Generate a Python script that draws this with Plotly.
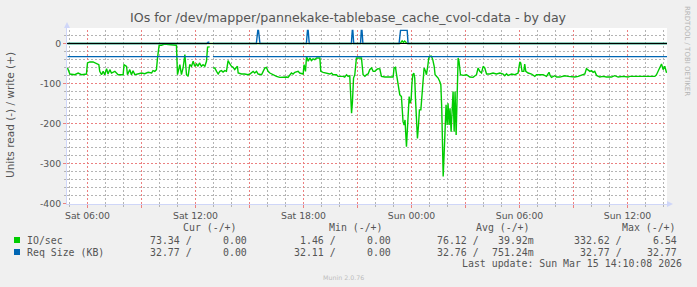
import plotly.graph_objects as go
import pandas as pd

# ---------------- data ----------------
# hours since Sat 2026-03-14 00:00
io_hours = [4.89, 5.02, 5.29, 5.48, 5.67, 5.85, 5.94, 6.00, 6.13, 6.31, 6.41, 6.50, 6.63, 6.68, 6.78, 6.87,
            6.96, 7.06, 7.14, 7.24, 7.33, 7.52, 7.70, 7.89, 7.98, 8.03, 8.17, 8.22, 8.35, 8.44, 8.53, 8.63,
            8.81, 9.00, 9.18, 9.37, 9.56, 9.64, 9.74, 9.83, 9.89, 9.98, 10.11, 10.29, 10.48, 10.67, 10.85,
            10.94, 11.00, 11.13, 11.22, 11.31, 11.41, 11.50, 11.59, 11.68, 11.78, 11.87, 11.96, 12.06, 12.14,
            12.22, 12.33, 12.42, 12.52, 12.61, 12.67, 12.79, 12.88, 12.98, 13.07, 13.17, 13.26, 13.35, 13.44,
            13.53, 13.63, 13.72, 13.81, 13.91, 14.00, 14.09, 14.18, 14.28, 14.33, 14.37, 14.56, 14.74, 14.92,
            15.02, 15.11, 15.20, 15.29, 15.39, 15.48, 15.67, 15.76, 15.85, 15.94, 16.03, 16.13, 16.22, 16.31,
            16.41, 16.50, 16.68, 16.87, 17.06, 17.14, 17.24, 17.33, 17.42, 17.52, 17.70, 17.79, 17.98, 18.03,
            18.11, 18.17, 18.26, 18.35, 18.44, 18.53, 18.63, 18.72, 18.91, 18.96, 19.09, 19.28, 19.46, 19.56,
            19.64, 19.83, 19.92, 20.20, 20.29, 20.39, 20.48, 20.57, 20.67, 20.72, 20.78, 20.85, 20.94, 21.13,
            21.22, 21.31, 21.41, 21.50, 21.59, 21.68, 21.78, 21.87, 21.96, 22.06, 22.14, 22.24, 22.33, 22.52,
            22.70, 22.98, 23.03, 23.11, 23.17, 23.26, 23.35, 23.44, 23.53, 23.59, 23.64, 23.72, 23.78, 23.81,
            23.87, 23.92, 23.98, 24.02, 24.07, 24.13, 24.18, 24.22, 24.28, 24.33, 24.39, 24.44, 24.52, 24.59,
            24.64, 24.70, 24.78, 24.83, 24.89, 24.96, 25.03, 25.11, 25.18, 25.26, 25.31, 25.39, 25.48, 25.57,
            25.63, 25.68, 25.72, 25.76, 25.81, 25.87, 25.92, 25.98, 26.03, 26.09, 26.14, 26.20, 26.26, 26.31,
            26.37, 26.42, 26.48, 26.53, 26.59, 26.64, 26.72, 26.87, 27.06, 27.24, 27.42, 27.61, 27.70, 27.79,
            27.89, 27.98, 28.07, 28.17, 28.35, 28.53, 28.72, 28.91, 29.09, 29.18, 29.28, 29.37, 29.56, 29.74,
            29.92, 30.02, 30.07, 30.14, 30.24, 30.29, 30.35, 30.48, 30.67, 30.85, 30.94, 31.13, 31.31, 31.50,
            31.64, 31.70, 31.78, 31.96, 32.06, 32.24, 32.33, 32.52, 32.70, 32.89, 33.07, 33.26, 33.44, 33.63,
            33.72, 33.81, 33.91, 34.00, 34.09, 34.18, 34.28, 34.46, 34.64, 34.83, 35.11, 35.29, 35.48, 35.76,
            36.03, 36.13, 36.31, 36.50, 36.78, 37.06, 37.33, 37.52, 37.61, 37.70, 37.79, 37.89, 37.98, 38.07,
            38.17]
io_read = [61.2, 76.3, 78, 73.8, 78, 76.3, 76.3, 48.6, 46.1, 46.1, 48.6, 51.2, 52.8, 69.6, 78, 69.6,
           78, 62.9, 76.3, 65.4, 73.8, 69.6, 78, 78, 78, 52.8, 57, 78, 65.4, 78, 67.9, 78,
           76.3, 73.8, 75.5, 72.1, 73.8, 67.9, 69.6, 65.4, 36.1, 4.2, 4.2, 1.46, 2.5, 2.5, 3.4,
           4.2, 78, 52.8, 78, 61.2, 27.7, 78, 82.2, 52.8, 57, 44.4, 57, 51.2, 57,
           48.6, 57, 52.8, 57, 44.4, 9.2, 8.4, None, 61.2, 61.2, 69.6, 76.3, 69.6, 67.9,
           71.3, 67.9, 69.6, 42.8, 51.2, 57, 59.5, 65.4, 59.5, 57, 73.8, 76.3, 76.3, 78,
           76.3, 73.8, 69.6, 73.8, 69.6, 76.3, 78, 69.6, 61.2, 59.5, 69.6, 73.8, 76.3, 78,
           79.7, 82.2, 84.7, 83.9, 83.9, 84.7, 79.7, 73.8, 76.3, 72.1, 69.6, 73.8, 76.3, 52.8,
           69.6, 31.9, 44.4, 36.1, 42.8, 38.6, 40.3, 36.1, 36.1, 69.6, 72.1, 73.8, 76.3, 73.8,
           78, 78, 82.2, 82.2, 83.9, 78, 82.2, 80.5, 174.4, 145, 86.4, 78, 36.1, 36.1,
           36.1, 78, 82.2, 78, 76.3, 65.4, 61.2, 69.6, 69.6, 65.4, 62.9, 63.7, 82.2, 83.9,
           83.9, 83.9, 61.2, 59.5, 78, 98.9, 128.3, 132.5, 195.4, 203.8, 191.2, 258.3, 203.8, 149.3,
           132.5, 149.3, 140.9, 103.1, 78, 73.8, 86.4, 136.7, 212.2, 237.3, 203.8, 166, 166, 128.3,
           98.9, 61.2, 69.6, 78, 61.2, 36.1, 31.9, 31.9, 40.3, 57, 78, 82.2, 86.4, 94.8,
           103.1, 161.8, 254.1, 332.62, 279.2, 203.8, 153.5, 203.8, 149.3, 203.8, 161.8, 220.5, 140.9, 119.9,
           220.5, 119.9, 228.9, 111.5, 36.1, 44.4, 78, 79.7, 78, 83.9, 84.7, 78, 61.2, 69.6,
           73.8, 57, 61.2, 76.3, 76.3, 73.8, 76.3, 73.8, 76.3, 80.5, 75.5, 79.7, 76.3, 78,
           73.8, 46.1, 48.6, 69.6, 69.6, 51.2, 69.6, 73.8, 76.3, 82.2, 78, 78, 78, 82.2,
           72.1, 79.7, 84.7, 80.5, 83.9, 83.9, 82.2, 80.5, 82.2, 83.9, 83.9, 82.2, 79.7, 76.3,
           62.9, 65.4, 69.6, 67.9, 72.1, 69.6, 79.7, 83.9, 82.2, 83.9, 83.9, 80.5, 83.9, 82.2,
           83.9, 82.2, 82.2, 83.9, 83.9, 83.9, 82.2, 82.2, 78, 69.6, 61.2, 51.2, 65.4, 57,
           73.34]

io_write_hours = [4.89, 23.36, 23.41, 23.48, 23.55, 23.62, 23.70, 23.76, 38.20]
io_write = [0, 0, 2.5, 6.54, 2.5, 6.3, 2.5, 0, 0]

req_read_hours = [4.89, 12.78, 12.87, 12.97, 38.20]
req_read = [32.77, 32.77, None, 32.77, 32.77]

req_write_hours = [4.89, 12.62, 12.70, 12.77, 12.82, 12.97, 15.38, 15.46, 15.50, 15.58, 18.16, 18.22, 18.26,
                   18.32, 20.66, 20.71, 20.74, 20.79, 21.17, 21.21, 21.25, 21.30, 23.31, 23.39, 23.76,
                   23.81, 38.20]
req_write = [0, 0, 3, 3, None, 0, 0, 32.77, 32.77, 0, 0, 32.77, 32.77,
             0, 0, 32.77, 32.77, 0, 0, 32.77, 32.77, 0, 0, 32.77, 32.77,
             0, 0]

major_hours = [6, 9, 12, 15, 18, 21, 24, 27, 30, 33, 36]
minor_hours = [5, 7, 8, 10, 11, 13, 14, 16, 17, 19, 20, 22, 23, 25, 26, 28, 29, 31, 32, 34, 35, 37, 38]
label_hours = [6, 12, 18, 24, 30, 36]
y_ticks = [-400, -300, -200, -100, 0]
y_minor = [-380, -360, -340, -320, -280, -260, -240, -220, -180, -160, -140, -120,
           -80, -60, -40, -20, 20]

stat_heads = ["Cur (-/+)", "Min (-/+)", "Avg (-/+)", "Max (-/+)"]
io_neg_stats = ["73.34", "1.46", "76.12", "332.62"]
io_pos_stats = ["0.00", "0.00", "39.92m", "6.54"]
req_neg_stats = ["32.77", "32.11", "32.76", "32.77"]
req_pos_stats = ["0.00", "0.00", "751.24m", "32.77"]

GREEN = "#00CC00"
BLUE = "#0066B3"
TXT = "#555555"

BASE = pd.Timestamp("2026-03-14 00:00:00")


def T(hours):
    return [(BASE + pd.Timedelta(hours=h)).strftime("%Y-%m-%d %H:%M:%S.%f")[:-3] for h in hours]


def neg(vals):
    return [None if v is None else -v for v in vals]


# ---------------- geometry helpers (pixel -> paper) ----------------
W, H = 697, 287
ML, MR, MT, MB = 67, 30, 28, 83
PW, PH = W - ML - MR, H - MT - MB   # 600 x 176


def PX(x):
    return (x - ML) / PW


def PY(y):
    return (H - MB - y) / PH


# axis ranges: 18 px per hour, 0.4 px per unit; offset half a pixel so grid lines sit on pixel centres
X_START = 4.8889 - 0.5 / 18
X_END = X_START + PW / 18
Y_LO = -400 - 1.25
Y_HI = Y_LO + PH / 0.4

MGRID = "#EC8080"
GRID = "#B4B4B4"
AXIS = "#CFD6F8"
DASH = "2px,2px"

fig = go.Figure()

# grid lines (positions from the tick arrays, underneath the data)
grid_shapes = []
for h in minor_hours:
    grid_shapes.append(dict(type="line", xref="x", yref="paper", x0=T([h])[0], x1=T([h])[0], y0=0, y1=1,
                            line=dict(color=GRID, width=1, dash=DASH), layer="below"))
for v in y_minor:
    grid_shapes.append(dict(type="line", xref="paper", yref="y", x0=0, x1=1, y0=v, y1=v,
                            line=dict(color=GRID, width=1, dash=DASH), layer="below"))
for h in major_hours:
    grid_shapes.append(dict(type="line", xref="x", yref="paper", x0=T([h])[0], x1=T([h])[0], y0=0, y1=1,
                            line=dict(color=MGRID, width=1, dash=DASH), layer="below"))
for v in y_ticks[1:-1]:
    grid_shapes.append(dict(type="line", xref="paper", yref="y", x0=0, x1=1, y0=v, y1=v,
                            line=dict(color=MGRID, width=1, dash=DASH), layer="below"))

fig.add_trace(go.Scatter(x=T(io_hours), y=neg(io_read), mode="lines",
                         line=dict(color=GREEN, width=1.4), showlegend=False, hoverinfo="skip"))
fig.add_trace(go.Scatter(x=T(io_write_hours), y=io_write, mode="lines",
                         line=dict(color=GREEN, width=1.4), showlegend=False, hoverinfo="skip"))
fig.add_trace(go.Scatter(x=T(req_read_hours), y=neg(req_read), mode="lines",
                         line=dict(color=BLUE, width=1.4), showlegend=False, hoverinfo="skip"))
fig.add_trace(go.Scatter(x=T(req_write_hours), y=req_write, mode="lines",
                         line=dict(color=BLUE, width=1.4), showlegend=False, hoverinfo="skip"))

fig.update_layout(
    width=W, height=H,
    margin=dict(l=ML, r=MR, t=MT, b=MB, pad=0),
    paper_bgcolor="#F0F0F0", plot_bgcolor="#FFFFFF",
    font=dict(family="DejaVu Sans", size=9.3, color=TXT),
    showlegend=False,
    xaxis=dict(
        type="date",
        range=T([X_START, X_END]),
        tickmode="array",
        tickvals=T(major_hours),
        ticktext=[(BASE + pd.Timedelta(hours=h)).strftime("%a %H:%M") if h in label_hours else ""
                  for h in major_hours],
        showgrid=False,
        ticks="outside", ticklen=3, tickcolor=MGRID,
        minor=dict(tickmode="array", tickvals=T(minor_hours), showgrid=False,
                   ticks="outside", ticklen=2, tickcolor=GRID),
        showline=True, linecolor=AXIS, linewidth=1,
        zeroline=False, fixedrange=True,
        tickfont=dict(size=9.3, color=TXT),
    ),
    yaxis=dict(
        range=[Y_LO, Y_HI],
        tickmode="array",
        tickvals=y_ticks,
        ticktext=[str(v) for v in y_ticks],
        showgrid=False,
        ticks="outside", ticklen=3, tickcolor=MGRID,
        minor=dict(tickmode="array", tickvals=y_minor, showgrid=False,
                   ticks="outside", ticklen=2, tickcolor=GRID),
        showline=True, linecolor=AXIS, linewidth=1,
        zeroline=False, fixedrange=True,
        tickfont=dict(size=9.3, color=TXT),
    ),
)

shapes = grid_shapes + [
    dict(type="line", xref="paper", yref="y", x0=0, x1=1, y0=0, y1=0,
         line=dict(color="#000000", width=1), layer="above"),
    # axis arrows
    dict(type="path", xref="paper", yref="paper",
         path=f"M {PX(64)} {PY(28)} L {PX(67)} {PY(22)} L {PX(70)} {PY(28)} Z",
         fillcolor=AXIS, line=dict(width=0), layer="above"),
    dict(type="path", xref="paper", yref="paper",
         path=f"M {PX(667)} {PY(201)} L {PX(673)} {PY(204)} L {PX(667)} {PY(207)} Z",
         fillcolor=AXIS, line=dict(width=0), layer="above"),
    # legend swatches
    dict(type="rect", xref="paper", yref="paper", x0=PX(14), x1=PX(20), y0=PY(243), y1=PY(237),
         fillcolor=GREEN, line=dict(width=0)),
    dict(type="rect", xref="paper", yref="paper", x0=PX(14), x1=PX(20), y0=PY(255), y1=PY(249),
         fillcolor=BLUE, line=dict(width=0)),
]
fig.update_layout(shapes=shapes)

MONO = "DejaVu Sans Mono"
ann = []


def text(s, x, y, anchor="left", size=9.9, family=MONO, color=TXT, angle=0):
    ann.append(dict(text=s, x=PX(x), y=PY(y), xref="paper", yref="paper", showarrow=False,
                    xanchor=anchor, yanchor="middle", borderpad=0, borderwidth=0,
                    textangle=angle, font=dict(family=family, size=size, color=color)))


# title and side texts
text("IOs for /dev/mapper/pannekake-tablebase_cache_cvol-cdata - by day", 348.5, 18,
     anchor="center", size=12.6, family="DejaVu Sans")
text("Units read (-) / write (+)", 10, 115, anchor="center", size=10.5, family="DejaVu Sans", angle=-90)
text("RRDTOOL / TOBI OETIKER", 687, 51, anchor="center", size=7, family="DejaVu Sans",
     color="#B4B4B4", angle=90)
text("Munin 2.0.76", 343, 277, anchor="center", size=6.3, family="DejaVu Sans", color="#BDBDBD")

# legend
head_end = [237, 383, 530, 676]
neg_end = [192, 336, 479, 622]
pos_end = [247, 391, 534, 677]
for i, h in enumerate(stat_heads):
    text(h, head_end[i], 228, anchor="right")
text("IO/sec", 27, 240)
text("Req Size (KB)", 27, 252)
for i in range(4):
    text(io_neg_stats[i] + " /", neg_end[i], 240, anchor="right")
    text(io_pos_stats[i], pos_end[i], 240, anchor="right")
    text(req_neg_stats[i] + " /", neg_end[i], 252, anchor="right")
    text(req_pos_stats[i], pos_end[i], 252, anchor="right")
text("Last update: Sun Mar 15 14:10:08 2026", 682, 263.5, anchor="right")

fig.update_layout(annotations=ann)

fig.write_html("out.html", config={"displayModeBar": False})
